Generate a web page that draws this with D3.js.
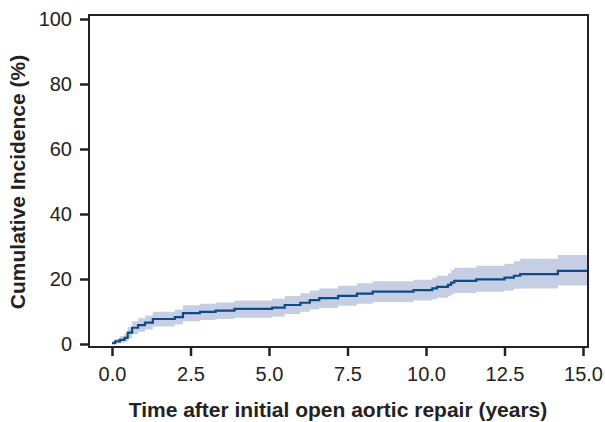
<!DOCTYPE html>
<html>
<head>
<meta charset="utf-8">
<script src="https://cdn.jsdelivr.net/npm/d3@7"></script>
<style>
  body { margin: 0; background: #fff; }
  svg text { font-family: "Liberation Sans", Arial, sans-serif; fill: #222; }
</style>
</head>
<body>
<div id="chart"></div>
<script>
// step times (years) and cumulative incidence (%) with 95% band
const times = [0, 0.1, 0.25, 0.4, 0.5, 0.64, 0.83, 1.05, 1.3, 2.0, 2.26, 2.8, 3.3, 3.9, 5.1, 5.5, 6.0, 6.3, 6.6, 7.2, 7.8, 8.3, 9.6, 10.2, 10.35, 10.7, 10.8, 10.9, 11.6, 12.5, 12.8, 13.0, 14.2];
const incidence = [0.3, 0.8, 1.3, 1.9, 3.5, 5.0, 5.8, 6.6, 7.7, 8.3, 9.5, 9.9, 10.3, 10.8, 11.2, 12.0, 12.7, 13.5, 14.1, 14.8, 15.5, 16.1, 16.6, 17.1, 17.6, 18.2, 18.9, 19.4, 19.9, 20.4, 21.0, 21.5, 22.5];
const lower = [0, 0.2, 0.4, 0.8, 1.8, 3.1, 3.8, 4.5, 5.4, 6.0, 7.0, 7.4, 7.7, 8.1, 8.5, 9.2, 9.9, 10.6, 11.1, 11.8, 12.4, 12.9, 13.4, 13.8, 14.2, 14.7, 15.3, 15.7, 16.1, 16.5, 17.0, 17.1, 18.0];
const upper = [0.8, 1.6, 2.4, 3.2, 5.2, 7.0, 7.9, 8.8, 9.9, 10.6, 11.9, 12.4, 12.8, 13.4, 13.9, 14.8, 15.6, 16.5, 17.1, 17.9, 18.7, 19.3, 19.8, 20.4, 21.0, 21.7, 22.8, 23.5, 24.1, 24.7, 25.5, 26.2, 27.4];
const endTime = 15.15;
const xTicks = [0, 2.5, 5, 7.5, 10, 12.5, 15];
const yTicks = [0, 20, 40, 60, 80, 100];

const width = 605, height = 422;
const svg = d3.select("#chart").append("svg")
  .attr("width", width)
  .attr("height", height);

const x = d3.scaleLinear().domain([0, 15]).range([112, 583]);
const y = d3.scaleLinear().domain([0, 100]).range([344, 19]);

const pts = times.map((t, i) => ({ t, v: incidence[i], lo: lower[i], hi: upper[i] }));
const last = pts[pts.length - 1];
pts.push({ t: endTime, v: last.v, lo: last.lo, hi: last.hi });

// confidence band
const band = d3.area()
  .curve(d3.curveStepAfter)
  .x(d => x(d.t))
  .y0(d => y(d.lo))
  .y1(d => y(d.hi));

svg.append("path")
  .datum(pts)
  .attr("d", band)
  .attr("fill", "#c6cee3");

// estimate line
const line = d3.line()
  .curve(d3.curveStepAfter)
  .x(d => x(d.t))
  .y(d => y(d.v));

svg.append("path")
  .datum(pts)
  .attr("d", line)
  .attr("fill", "none")
  .attr("stroke", "#0c4a88")
  .attr("stroke-width", 2.2);

// frame
svg.append("rect")
  .attr("x", 89)
  .attr("y", 15)
  .attr("width", 588 - 89)
  .attr("height", 347 - 15)
  .attr("fill", "none")
  .attr("stroke", "#222")
  .attr("stroke-width", 2);

// axes
const yAxis = svg.append("g")
  .attr("transform", "translate(89,0)")
  .call(d3.axisLeft(y).tickValues(yTicks).tickSize(9).tickPadding(8).tickFormat(d3.format("d")));

const xAxis = svg.append("g")
  .attr("transform", "translate(0,347)")
  .call(d3.axisBottom(x).tickValues(xTicks).tickSize(9).tickPadding(11).tickFormat(d3.format(".1f")));

[yAxis, xAxis].forEach(g => {
  g.select(".domain").remove();
  g.selectAll(".tick line").attr("stroke", "#222").attr("stroke-width", 2.5);
  g.selectAll(".tick text")
    .style("font-family", "'Liberation Sans', Arial, sans-serif")
    .style("font-size", "20px")
    .attr("fill", "#222");
});

// axis titles
svg.append("text")
  .attr("x", 338)
  .attr("y", 417)
  .attr("text-anchor", "middle")
  .style("font-size", "21px")
  .style("font-weight", "bold")
  .text("Time after initial open aortic repair (years)");

svg.append("text")
  .attr("transform", "translate(25,182) rotate(-90)")
  .attr("text-anchor", "middle")
  .style("font-size", "21px")
  .style("font-weight", "bold")
  .text("Cumulative Incidence (%)");
</script>
</body>
</html>
